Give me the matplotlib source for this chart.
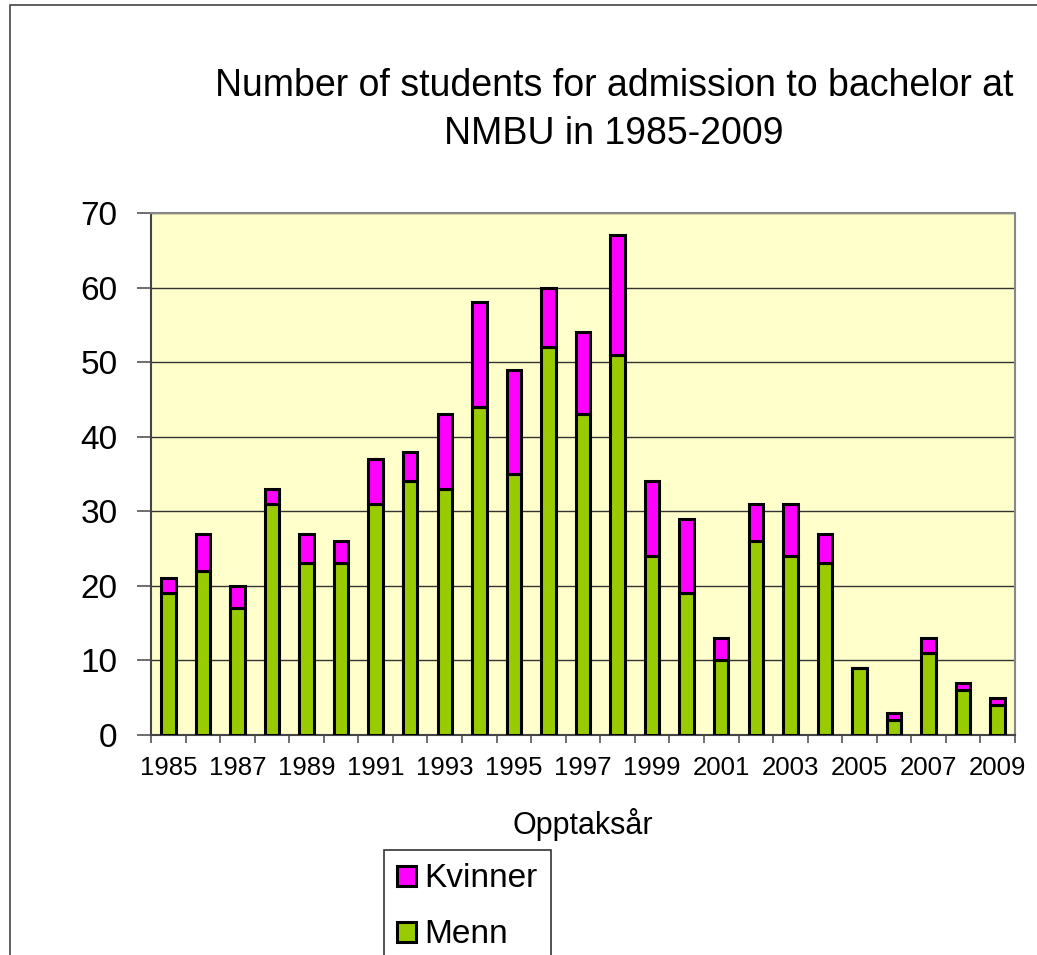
import numpy as np
import matplotlib.pyplot as plt
from matplotlib.patches import Rectangle

plt.rcParams['font.family'] = ['Liberation Sans', 'DejaVu Sans']

years = list(range(1985, 2010))
menn = [19, 22, 17, 31, 23, 23, 31, 34, 33, 44, 35, 52, 43, 51, 24, 19, 10, 26, 24, 23, 9, 2, 11, 6, 4]
kvinner = [2, 5, 3, 2, 4, 3, 6, 4, 10, 14, 14, 8, 11, 16, 10, 10, 3, 5, 7, 4, 0, 1, 2, 1, 1]

green = '#99CC00'
pink = '#FF00FF'

fig = plt.figure(figsize=(10.37, 9.55), dpi=100)
ax = fig.add_axes([151/1037, 1 - 735/955, (1015 - 151)/1037, (735 - 213)/955])
ax.set_facecolor('#FFFFCC')

x = np.arange(len(years))
b1 = ax.bar(x, menn, width=0.42, color=green, edgecolor='black', linewidth=2.2, zorder=3, label='Menn')
b2 = ax.bar(x, kvinner, width=0.42, bottom=menn, color=pink, edgecolor='black', linewidth=2.2, zorder=3, label='Kvinner')

ax.set_xlim(-0.5, len(years) - 0.5)
ax.set_ylim(0, 70)
ax.set_yticks(range(0, 71, 10))
ax.yaxis.grid(True, color='#333333', linewidth=1.0, zorder=1)
ax.tick_params(axis='y', labelsize=24, length=10, width=1.2, color='#555555', direction='out', pad=14)

ax.set_xticks(x[::2])
ax.set_xticklabels([str(y) for y in years[::2]])
ax.set_xticks(np.arange(-0.5, len(years), 1), minor=True)
ax.tick_params(axis='x', which='major', labelsize=18.5, length=0, pad=15)
ax.tick_params(axis='x', which='minor', length=6, width=1.2, color='#555555', direction='out')

for s in ['left', 'bottom']:
    ax.spines[s].set_color('#444444')
    ax.spines[s].set_linewidth(1.5)
for s in ['top', 'right']:
    ax.spines[s].set_color('#888888')
    ax.spines[s].set_linewidth(1.5)

ax.set_xlabel('Opptaksår', fontsize=22, labelpad=20)

fig.text(614/1037, 1 - 110/955, 'Number of students for admission to bachelor at\nNMBU in 1985-2009',
         ha='center', va='center', fontsize=27, linespacing=1.4)

leg = fig.legend([b2, b1], ['Kvinner', 'Menn'], loc='upper left',
                 bbox_to_anchor=(384/1037, 1 - 850/955), bbox_transform=fig.transFigure,
                 fontsize=24, frameon=True, fancybox=False, edgecolor='black',
                 handlelength=0.55, handleheight=0.55, handletextpad=0.25,
                 borderpad=0.4, labelspacing=0.75, borderaxespad=0)
leg.get_frame().set_linewidth(1.2)

fig.patches.append(Rectangle((10/1037, -0.1), 1.2, 1 - 5/955 + 0.1, transform=fig.transFigure,
                             fill=False, edgecolor='#444444', linewidth=1.2))

fig.savefig('out.png', dpi=100)
